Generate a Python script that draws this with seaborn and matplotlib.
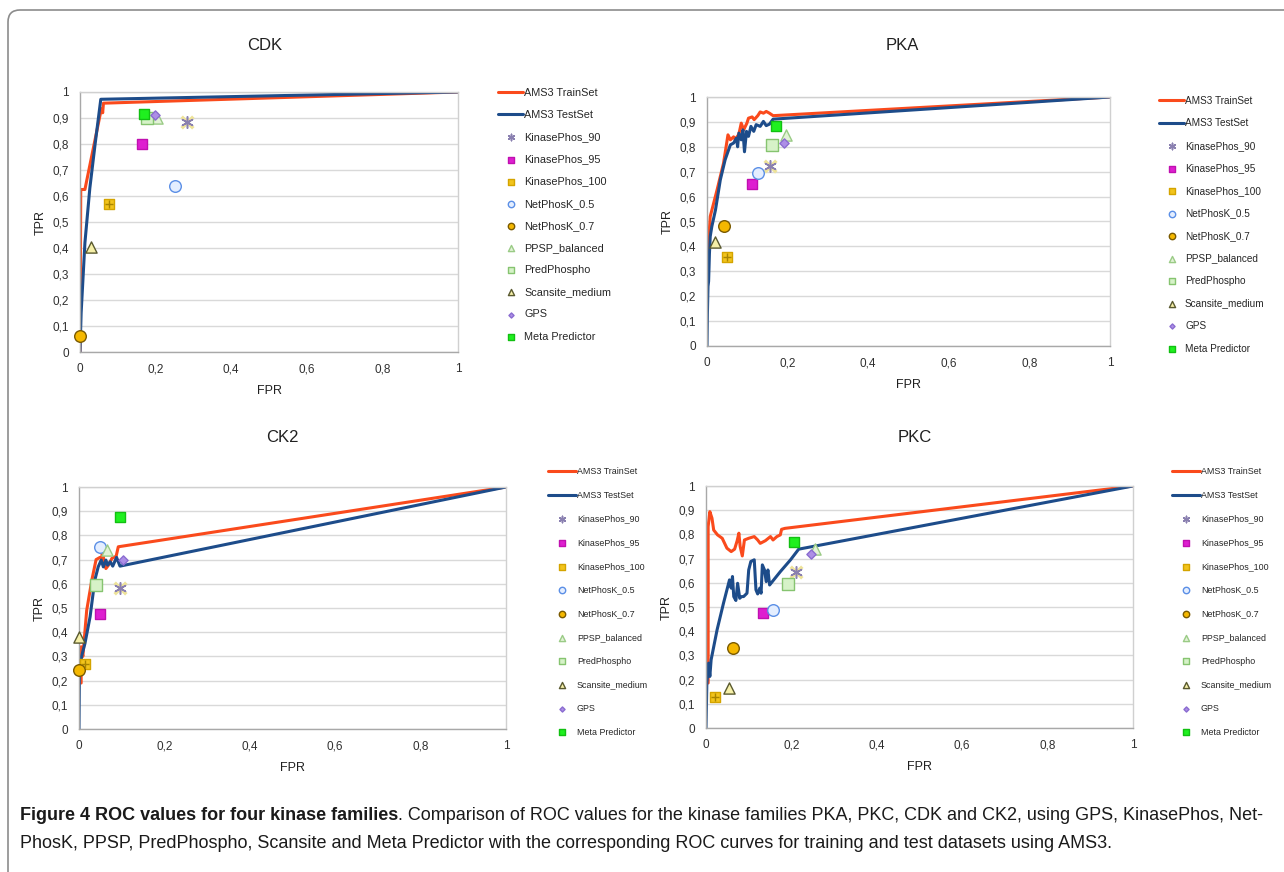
import matplotlib
matplotlib.use("Agg")
import matplotlib.pyplot as plt
import seaborn as sns
from matplotlib.patches import FancyBboxPatch
from matplotlib.transforms import IdentityTransform
from matplotlib.ticker import FuncFormatter, MultipleLocator

# ---- data ----
methods = ["KinasePhos_90", "KinasePhos_95", "KinasePhos_100", "NetPhosK_0.5",
           "NetPhosK_0.7", "PPSP_balanced", "PredPhospho", "Scansite_medium",
           "GPS", "Meta Predictor"]

# CDK
cdk_train_fpr = [0, 0.001, 0.002, 0.013, 0.055, 0.058, 0.06, 0.062, 1.0]
cdk_train_tpr = [0, 0.3, 0.625, 0.625, 0.925, 0.935, 0.92, 0.957, 1.0]
cdk_test_fpr = [0, 0.003, 0.013, 0.026, 0.04, 0.055, 1.0]
cdk_test_tpr = [0, 0.15, 0.42, 0.63, 0.8, 0.972, 1.0]
cdk_pts_fpr = [0.283, 0.163, 0.077, 0.252, 0.001, 0.204, 0.176, 0.028, 0.199, 0.168]
cdk_pts_tpr = [0.886, 0.80, 0.571, 0.64, 0.063, 0.90, 0.90, 0.405, 0.91, 0.914]

# PKA
pka_train_fpr = [0.002, 0.008, 0.025, 0.041, 0.052, 0.058, 0.066, 0.07, 0.079, 0.085,
                 0.091, 0.099, 0.103, 0.112, 0.117, 0.126, 0.132, 0.14, 0.147, 0.155,
                 0.164, 1.0]
pka_train_tpr = [0.37, 0.52, 0.627, 0.734, 0.848, 0.828, 0.84, 0.83, 0.85, 0.895,
                 0.868, 0.895, 0.915, 0.92, 0.909, 0.925, 0.94, 0.935, 0.942, 0.935,
                 0.925, 1.0]
pka_test_fpr = [0, 0.001, 0.0025, 0.004, 0.006, 0.008, 0.012, 0.021, 0.033, 0.045,
                0.058, 0.066, 0.073, 0.076, 0.079, 0.085, 0.089, 0.093, 0.098, 0.103,
                0.109, 0.116, 0.122, 0.132, 0.14, 0.147, 0.155, 0.164, 1.0]
pka_test_tpr = [0, 0.13, 0.24, 0.26, 0.37, 0.44, 0.48, 0.546, 0.667, 0.748,
                0.808, 0.815, 0.835, 0.80, 0.855, 0.828, 0.868, 0.78, 0.862, 0.842,
                0.882, 0.862, 0.889, 0.882, 0.902, 0.885, 0.891, 0.911, 1.0]
pka_pts_fpr = [0.157, 0.112, 0.049, 0.126, 0.041, 0.195, 0.161, 0.019, 0.192, 0.172]
pka_pts_tpr = [0.721, 0.65, 0.358, 0.693, 0.482, 0.847, 0.807, 0.417, 0.817, 0.882]

# CK2
ck2_train_fpr = [0.005, 0.005, 0.009, 0.018, 0.03, 0.04, 0.049, 0.053, 0.055, 0.059,
                 0.063, 0.069, 0.077, 0.087, 0.092, 1.0]
ck2_train_tpr = [0.19, 0.34, 0.30, 0.49, 0.615, 0.70, 0.709, 0.705, 0.74, 0.684,
                 0.663, 0.677, 0.705, 0.714, 0.753, 1.0]
ck2_test_fpr = [0, 0.001, 0.002, 0.006, 0.014, 0.026, 0.037, 0.045, 0.052, 0.057,
                0.063, 0.067, 0.073, 0.079, 0.088, 0.096, 1.0]
ck2_test_tpr = [0, 0.217, 0.245, 0.30, 0.354, 0.464, 0.615, 0.67, 0.698, 0.67,
                0.698, 0.677, 0.691, 0.673, 0.709, 0.673, 1.0]
ck2_pts_fpr = [0.095, 0.049, 0.014, 0.05, 0.0, 0.066, 0.04, 0.001, 0.104, 0.095]
ck2_pts_tpr = [0.581, 0.477, 0.268, 0.754, 0.243, 0.74, 0.595, 0.382, 0.698, 0.875]

# PKC
pkc_train_fpr = [0.005, 0.005, 0.009, 0.014, 0.018, 0.027, 0.038, 0.049, 0.059, 0.067,
                 0.073, 0.077, 0.08, 0.085, 0.09, 0.1, 0.113, 0.121, 0.127, 0.139,
                 0.151, 0.157, 0.166, 0.174, 0.177, 0.185, 1.0]
pkc_train_tpr = [0.186, 0.832, 0.894, 0.867, 0.818, 0.798, 0.784, 0.743, 0.729, 0.739,
                 0.774, 0.805, 0.75, 0.711, 0.777, 0.784, 0.791, 0.777, 0.763, 0.774,
                 0.791, 0.777, 0.791, 0.798, 0.821, 0.825, 1.0]
pkc_test_fpr = [0, 0.002, 0.006, 0.009, 0.012, 0.026, 0.041, 0.055, 0.059, 0.062,
                0.065, 0.07, 0.074, 0.079, 0.083, 0.088, 0.096, 0.1, 0.105, 0.113,
                0.117, 0.121, 0.126, 0.129, 0.132, 0.137, 0.141, 0.145, 0.149, 0.174,
                0.198, 0.217, 1.0]
pkc_test_tpr = [0, 0.186, 0.268, 0.213, 0.282, 0.406, 0.516, 0.612, 0.578, 0.626,
                0.543, 0.527, 0.598, 0.536, 0.543, 0.543, 0.557, 0.653, 0.688, 0.695,
                0.571, 0.554, 0.578, 0.557, 0.674, 0.653, 0.605, 0.653, 0.591, 0.646,
                0.695, 0.739, 1.0]
pkc_pts_fpr = [0.21, 0.134, 0.022, 0.158, 0.063, 0.255, 0.193, 0.053, 0.245, 0.207]
pkc_pts_tpr = [0.646, 0.477, 0.127, 0.488, 0.33, 0.739, 0.596, 0.165, 0.717, 0.77]

# ---- styling ----
sns.set_style("white")
plt.rcParams["font.family"] = ["Liberation Sans", "DejaVu Sans"]

train_color = "#fa4a1c"
test_color = "#1d4c8a"

# marker, size, face, edge
marker_style = {
    "KinasePhos_90": ((6, 2, 0), 70, "#8a80b0", "#8a80b0"),
    "KinasePhos_95": ("s", 55, "#de1fd0", "#c010b0"),
    "KinasePhos_100": ("s", 55, "#f2c41c", "#d4a400"),
    "NetPhosK_0.5": ("o", 70, "#e4eeff", "#5b8fe6"),
    "NetPhosK_0.7": ("o", 70, "#f5b800", "#7a5a00"),
    "PPSP_balanced": ("^", 65, "#e2f2d6", "#9acb86"),
    "PredPhospho": ("s", 70, "#d6f2c8", "#86c470"),
    "Scansite_medium": ("^", 65, "#f6f0a8", "#5a5a30"),
    "GPS": ("D", 22, "#ad8ee6", "#8a6cd0"),
    "Meta Predictor": ("s", 60, "#1ff01f", "#12c012"),
}

W, H = 1284, 872
fig = plt.figure(figsize=(W / 100, H / 100), dpi=100)

# name, plot box (l, t, r, b px), title (x, y px), legend (x, y px), legend font, row px, handle px
panels = [
    ("CDK", [80, 92, 458, 352], (265, 45), cdk_train_fpr, cdk_train_tpr, cdk_test_fpr,
     cdk_test_tpr, cdk_pts_fpr, cdk_pts_tpr, (498, 88), 7.8, 22.0, 25),
    ("PKA", [707, 97, 1110, 346], (902, 45), pka_train_fpr, pka_train_tpr, pka_test_fpr,
     pka_test_tpr, pka_pts_fpr, pka_pts_tpr, (1159, 96), 7.2, 21.6, 25),
    ("CK2", [79, 487, 506, 729], (282, 437), ck2_train_fpr, ck2_train_tpr, ck2_test_fpr,
     ck2_test_tpr, ck2_pts_fpr, ck2_pts_tpr, (548, 467), 6.4, 22.8, 28),
    ("PKC", [706, 486, 1133, 728], (915, 437), pkc_train_fpr, pkc_train_tpr, pkc_test_fpr,
     pkc_test_tpr, pkc_pts_fpr, pkc_pts_tpr, (1172, 467), 6.4, 22.8, 28),
]

comma = FuncFormatter(lambda v, p: ("%g" % round(v, 1)).replace(".", ","))

for (name, box, title_xy, trx, try_, tex, tey, px, py, leg_xy, lfs, row, hlen) in panels:
    l, t, r, b = box
    ax = fig.add_axes([l / W, (H - b) / H, (r - l) / W, (b - t) / H])

    sns.lineplot(x=trx, y=try_, sort=False, estimator=None, color=train_color,
                 linewidth=2.2, label="AMS3 TrainSet", ax=ax)
    sns.lineplot(x=tex, y=tey, sort=False, estimator=None, color=test_color,
                 linewidth=2.2, label="AMS3 TestSet", ax=ax)

    for m, xv, yv in zip(methods, px, py):
        mk, s, fc, ec = marker_style[m]
        if m == "KinasePhos_90":
            sns.scatterplot(x=[xv], y=[yv], marker="x", s=s, color="#eee39a",
                            linewidth=2.5, ax=ax, zorder=4, clip_on=False)
            sns.scatterplot(x=[xv], y=[yv], marker=mk, s=s, color=ec, linewidth=1.1,
                            label=m, ax=ax, zorder=5, clip_on=False)
        else:
            sns.scatterplot(x=[xv], y=[yv], marker=mk, s=s, color=fc, edgecolor=ec,
                            linewidth=1.0, label=m, ax=ax, zorder=5, clip_on=False)
        if m == "KinasePhos_100":
            sns.scatterplot(x=[xv], y=[yv], marker="+", s=40, color="#a88400",
                            linewidth=1.0, ax=ax, zorder=6, clip_on=False)

    ax.set_xlim(0, 1)
    ax.set_ylim(0, 1)
    ax.xaxis.set_major_locator(MultipleLocator(0.2))
    ax.yaxis.set_major_locator(MultipleLocator(0.1))
    ax.xaxis.set_major_formatter(comma)
    ax.yaxis.set_major_formatter(comma)
    ax.grid(axis="y", color="#d9d9d9", linewidth=1.0)
    ax.set_axisbelow(True)
    for sp in ax.spines.values():
        sp.set_color("#d0d0d0")
        sp.set_linewidth(1.0)
    ax.spines["left"].set_color("#a8a8a8")
    ax.spines["bottom"].set_color("#a8a8a8")
    ax.tick_params(axis="both", labelsize=8.5, colors="#303030", length=3,
                   color="#b0b0b0", pad=5)
    ax.set_xlabel("FPR", fontsize=9, color="#202020", labelpad=7)
    ax.set_ylabel("TPR", fontsize=9, color="#202020", labelpad=4)

    fig.text(title_xy[0] / W, (H - title_xy[1]) / H, name, ha="center", va="center",
             fontsize=12, color="#202020")

    lx, ly = leg_xy
    fpx = lfs * 100 / 72
    ax.legend(loc="upper left",
              bbox_to_anchor=((lx - l) / (r - l), (b - ly) / (b - t)),
              frameon=False, fontsize=lfs, borderpad=0, borderaxespad=0,
              handlelength=hlen / fpx, handletextpad=0.1,
              labelspacing=row / fpx - 0.91, markerscale=0.55)

# rounded frame around the figure (open at right and bottom)
frame = FancyBboxPatch((8, -40), 1320, 862 + 40,
                       boxstyle="round,pad=0,rounding_size=12",
                       transform=IdentityTransform(), fill=False,
                       edgecolor="#8c8c8c", linewidth=1.2, clip_on=False)
fig.patches.append(frame)

# caption
cap_bold = "Figure 4 ROC values for four kinase families"
cap_rest = (". Comparison of ROC values for the kinase families PKA, PKC, CDK and CK2, "
            "using GPS, KinasePhos, Net-")
cap_line2 = ("PhosK, PPSP, PredPhospho, Scansite and Meta Predictor with the corresponding "
             "ROC curves for training and test datasets using AMS3.")
cap_font = ["Liberation Sans Narrow", "Liberation Sans", "DejaVu Sans"]

fig.canvas.draw()
renderer = fig.canvas.get_renderer()
fs = 13
t1 = fig.text(20 / W, (H - 815) / H, cap_bold, fontweight="bold", fontsize=fs,
              va="center", ha="left", family=cap_font, color="#1a1a1a")
t2 = fig.text(0, (H - 815) / H, cap_rest, fontsize=fs, va="center", ha="left",
              family=cap_font, color="#1a1a1a")
w1 = t1.get_window_extent(renderer).width
w2 = t2.get_window_extent(renderer).width
fs = fs * (1264 - 20) / (w1 + w2)
t1.set_fontsize(fs)
t2.set_fontsize(fs)
w1 = t1.get_window_extent(renderer).width
t2.set_x((20 + w1) / W)
fig.text(20 / W, (H - 843) / H, cap_line2, fontsize=fs, va="center", ha="left",
         family=cap_font, color="#1a1a1a")

fig.savefig("out.png", dpi=100)
